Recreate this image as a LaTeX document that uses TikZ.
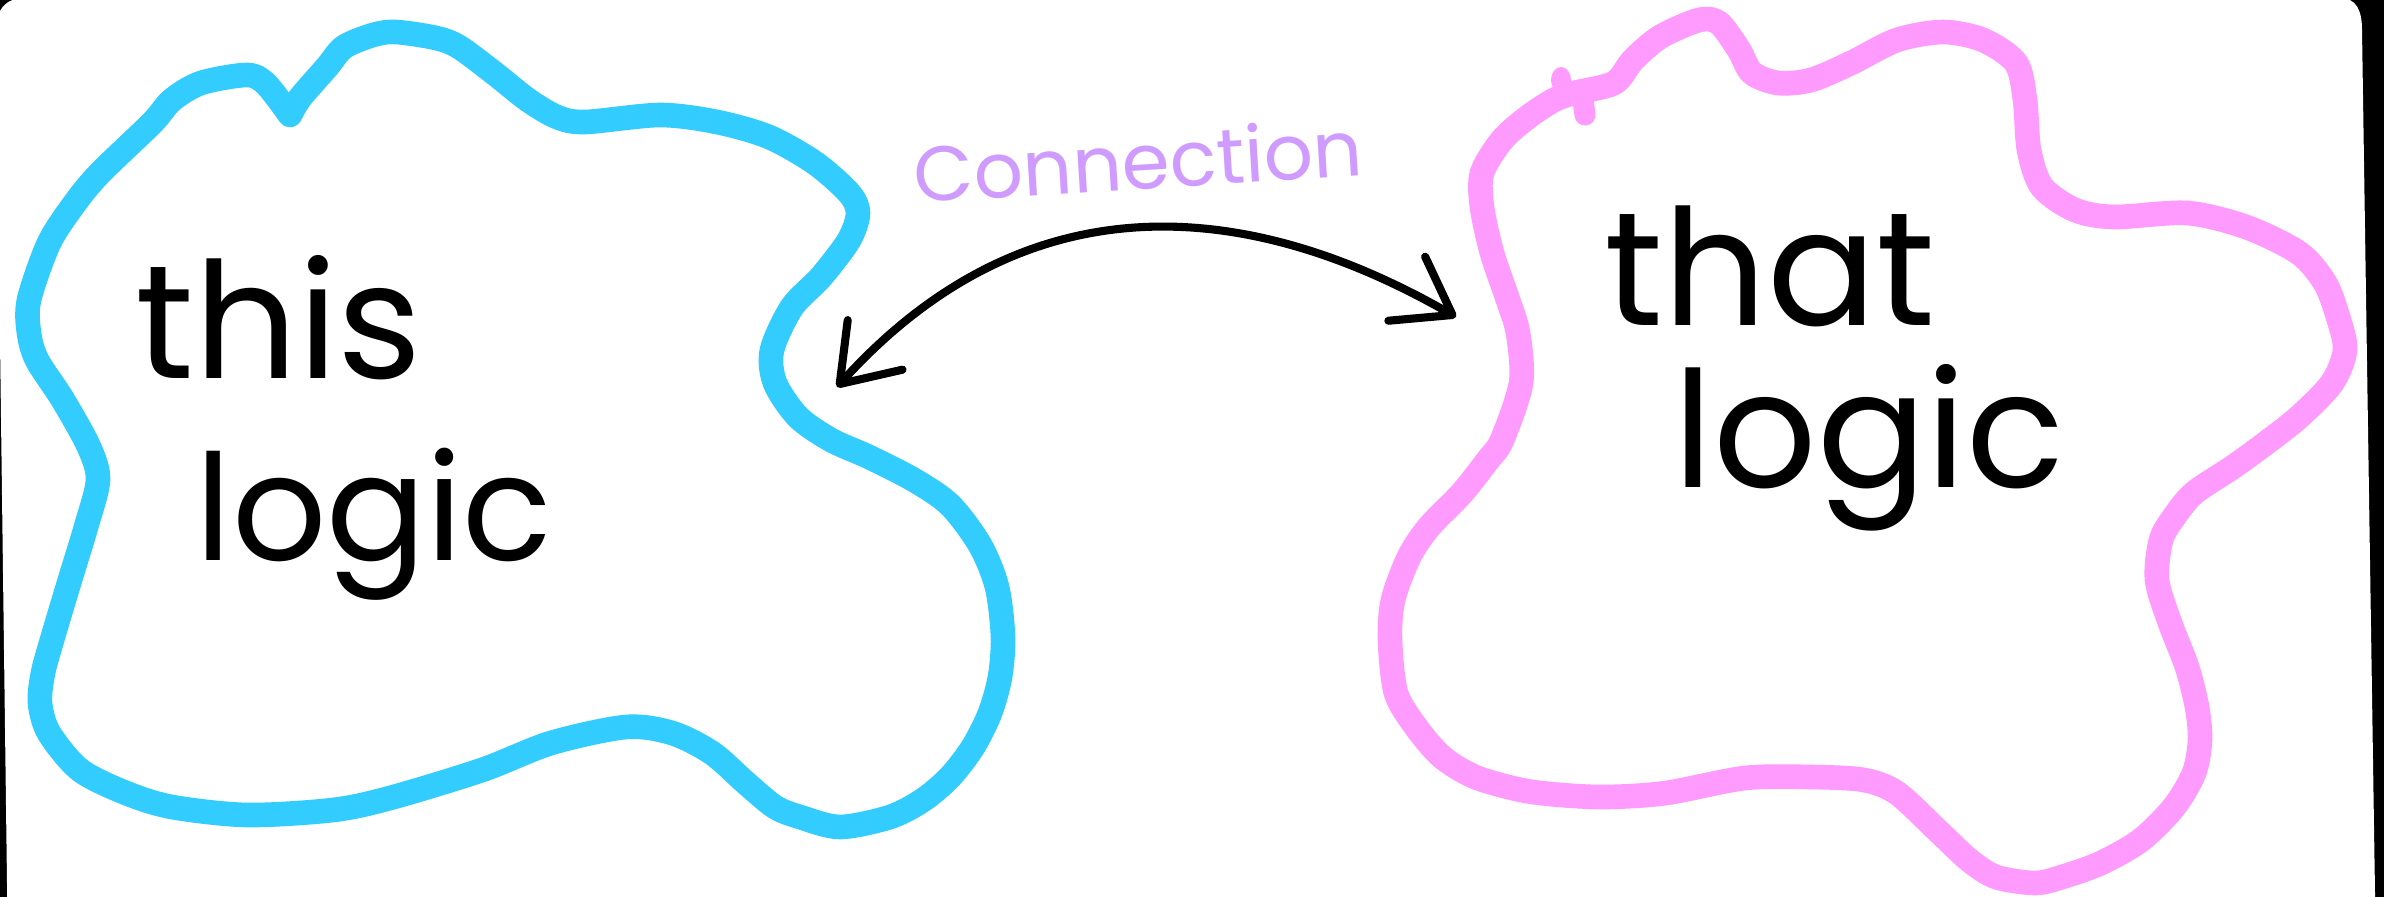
\documentclass[tikz,border=0pt]{standalone}
\usepackage{fontspec}
\setmainfont{Poppins}
\usetikzlibrary{arrows.meta}
\definecolor{blobblue}{RGB}{51,204,255}
\definecolor{blobpink}{RGB}{255,155,255}
\definecolor{labelpurple}{RGB}{207,155,255}
\begin{document}
\begin{tikzpicture}[x=0.01cm, y=-0.01cm,
  blob/.style={line width=7pt, line cap=round, line join=round},
  hand/.style={font=\fontsize{46}{50}\selectfont, text=black, inner sep=0pt, anchor=base west},
  lbl/.style={font=\fontsize{22}{26}\selectfont, text=labelpurple, inner sep=0pt, anchor=base west, rotate=3.5},
  link/.style={line width=2.3pt, line cap=round, <->, >={Straight Barb[length=15pt,width=21pt,round]}}]
\useasboundingbox (0,0) rectangle (2384,897);
% page background
\fill[black] (0,0) rectangle (2384,897);
\fill[white] (8,960) -- (-4,30) .. controls (-4,10) and (5,-2) .. (25,-2) -- (2340,-2)
  .. controls (2356,-2) and (2362,10) .. (2362,30) -- (2376,960) -- cycle;
% left blob
\draw[blob, blobblue] plot[smooth, tension=0.5] coordinates {(290,115) (300,98) (327,67) (344,47) (373,35) (396,32) (436,38) (459,47) (494,73) (528,100) (557,117) (585,122) (660,115) (717,122) (769,137) (815,163) (849,193) (858,213) (849,240) (821,277) (792,307) (772,350) (775,383) (798,417) (831,440) (869,457) (914,480) (950,505) (980,545) (997,587) (1003,637) (1000,677) (990,713) (973,747) (950,777) (923,800) (890,817) (840,827) (800,817) (775,807) (746,783) (712,753) (672,733) (626,727) (551,743) (482,770) (390,798) (333,810) (247,815) (172,807) (126,793) (80,770) (49,733) (40,703) (43,673) (52,640) (69,583) (86,527) (98,480) (89,447) (63,400) (37,360) (29,333) (29,300) (49,243) (75,203) (100,173) (152,123) (172,100) (201,83) (247,75) (266,84) (290,115)};
% right blob
\draw[blob, blobpink] plot[smooth cycle, tension=0.5] coordinates {(1574,93) (1614,83) (1633,60) (1660,37) (1699,20) (1719,23) (1739,50) (1752,73) (1778,83) (1811,80) (1851,63) (1897,40) (1943,32) (1983,40) (2016,63) (2025,100) (2029,150) (2042,187) (2075,210) (2114,217) (2187,213) (2246,227) (2299,253) (2325,283) (2338,317) (2345,350) (2332,383) (2299,417) (2266,443) (2233,467) (2194,493) (2174,517) (2161,540) (2157,580) (2170,623) (2187,667) (2197,707) (2200,740) (2194,773) (2174,807) (2141,840) (2101,863) (2062,877) (2035,883) (1996,877) (1969,860) (1937,830) (1897,793) (1864,780) (1811,777) (1745,778) (1666,793) (1607,797) (1561,795) (1521,790) (1475,777) (1442,757) (1416,727) (1396,693) (1390,640) (1393,600) (1409,557) (1429,527) (1462,493) (1488,460) (1502,440) (1521,383) (1518,333) (1508,300) (1492,253) (1482,207) (1482,173) (1502,140) (1528,117) (1554,100)};
\fill[blobpink] (1561,80) ellipse (10 and 13);
\draw[blobpink, line width=6pt, line cap=round] (1583,100) -- (1585,115);
% texts
\node[hand] (thisA) at (135,378) {this};
\node[hand, font=\fontsize{42}{46}\selectfont] (thisB) at (195,560) {logic};
\node[hand] (thatA) at (1604,325) {that};
\node[hand] (thatB) at (1673,487) {logic};
\node[lbl] (conn) at (915,203) {Connection};
% connector
\coordinate (arrL) at (837,387);
\coordinate (arrR) at (1456,317);
\draw[link] (arrL) .. controls (1056,145) and (1301,228) .. (arrR);
\end{tikzpicture}
\end{document}
